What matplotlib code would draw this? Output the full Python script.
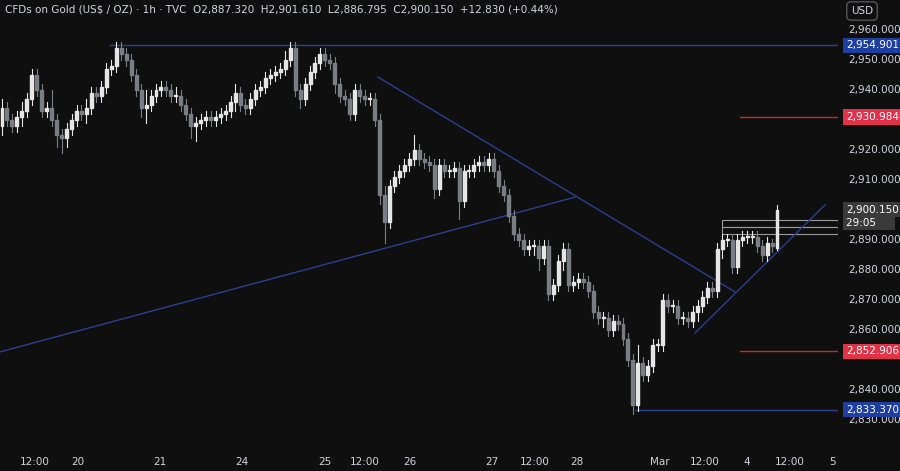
import matplotlib
matplotlib.use("Agg")
import matplotlib.pyplot as plt
from matplotlib.patches import Rectangle

closes = [2934,2930,2928,2931,2933,2937,2945,2940,2933,2934,2930,2925,2924,2927,2930,2933,2932,2934,2939,2938,
          2941,2947,2948,2954,2952,2950,2945,2940,2934,2935,2938,2940,2941,2940,2938,2938,2935,2932,2928,2929,
          2930,2931,2930,2931,2932,2933,2936,2939,2935,2934,2937,2940,2941,2944,2945,2946,2947,2950,2954,2940,
          2937,2942,2946,2949,2952,2950,2949,2942,2938,2937,2932,2940,2938,2937,2937,2930,
          2905,2896,2908,2911,2913,2915,2917,2920,2917,2916,2915,2907,2915,2913,2913,2914,2903,2913,
          2913,2915,2916,2915,2917,2913,2908,2905,2898,2892,2890,2887,2888,2888,2884,2888,2872,2875,2883,2887,
          2875,2876,2877,2876,2873,2866,2864,2864,2860,2863,2862,2857,2850,2835,2849,2845,2848,2855,2855,2870,
          2868,2868,2864,2864,2863,2866,2868,2871,2874,2873,2887,2890,2890,2881,2890,2891,2891,2891,2888,2885,
          2889,2888,2900.15]
wick_up = [3,2,2,2,3,2,2,2,2,2,6,2,2,2,2,2,2,3,2,2,2,2,2,2,2,2,2,2,2,5,2,2,2,2,2,3,2,2,2,2,
           2,2,2,2,2,2,2,3,2,2,2,2,2,2,2,2,2,3,2,2,2,2,2,2,2,2,2,2,2,2,2,2,2,2,2,2,
           2,3,2,2,2,2,2,5,2,2,2,2,2,2,2,2,2,2,2,2,2,2,2,2,2,2,2,2,2,2,2,2,2,2,2,2,2,2,
           2,2,2,2,2,2,2,2,2,2,2,2,2,2,6,2,2,2,2,2,2,2,2,2,2,2,2,2,2,2,2,2,2,2,2,2,2,2,2,2,2,1.5]
wick_dn = [3,2,2,2,3,2,2,2,2,2,2,4,5,3,2,2,2,3,2,2,2,2,2,2,2,2,2,2,3,5,2,2,2,2,2,2,2,2,4,5,
           2,2,2,2,2,2,2,3,2,2,2,2,2,2,2,2,2,2,2,2,3,2,2,2,2,2,2,3,2,2,2,2,2,2,2,2,
           3,7,2,2,2,2,2,2,2,2,2,3,2,2,2,2,6,2,2,2,2,2,2,2,2,2,2,2,2,2,2,3,4,2,2,2,2,3,
           2,2,2,2,2,2,2,3,2,2,2,2,2,3,2,2,2,2,2,2,2,2,2,2,2,2,3,2,2,2,2,3,2,2,2,2,2,2,2,2]
tick_px = [35, 78, 160, 242, 325, 365, 410, 492, 535, 577, 660, 705, 747, 790, 833]
tick_labels = ["12:00", "20", "21", "24", "25", "12:00", "26", "27", "12:00", "28", "Mar", "12:00", "4", "12:00", "5"]
price_ticks = [2830, 2840, 2860, 2870, 2880, 2890, 2910, 2920, 2940, 2950, 2960]

N = len(closes)
wick_up = (wick_up + [2] * N)[:N]
wick_dn = (wick_dn + [2] * N)[:N]
wick_up[-1] = 1.46
wick_dn[-1] = 0.525
opens = [2928] + closes[:-1]
opens[-1] = 2887.32
highs = [max(o, c) + w for o, c, w in zip(opens, closes, wick_up)]
lows = [min(o, c) - w for o, c, w in zip(opens, closes, wick_dn)]

BG = "#0f0f0f"
s = (777 - 2) / (N - 1)
px = lambda p: (p - 2) / s

fig = plt.figure(figsize=(9, 4.71), dpi=100, facecolor=BG)
ax = fig.add_axes([0, 21 / 471, 838 / 900, 450 / 471], facecolor=BG)
ax.set_xlim(px(0), px(838))
ax.set_ylim(2820, 2970)
for sp in ax.spines.values():
    sp.set_visible(False)
ax.set_xticks([]); ax.set_yticks([])

w = 0.6
for i, (o, h, l, c) in enumerate(zip(opens, highs, lows, closes)):
    col = "#e6e6e6" if c >= o else "#7b7d85"
    ax.plot([i, i], [l, h], color=col, lw=0.8, zorder=3)
    ax.add_patch(Rectangle((i - w / 2, min(o, c)), w, max(abs(c - o), 0.4), color=col, zorder=4))

blue = "#2a3f8f"
ax.plot([px(110), px(838)], [2954.901] * 2, color=blue, lw=1)
ax.plot([px(635), px(838)], [2833.37] * 2, color=blue, lw=1)
ax.plot([px(740), px(838)], [2930.984] * 2, color="#c42a2a", lw=1)
ax.plot([px(740), px(838)], [2852.906] * 2, color="#c42a2a", lw=1)
ax.plot([px(0), px(575)], [2852.7, 2904.3], color=blue, lw=1)
ax.plot([px(378), px(735)], [2944.3, 2872.7], color=blue, lw=1)
ax.plot([px(695), px(825)], [2859, 2901.7], color=blue, lw=1)
ax.add_patch(Rectangle((px(722), 2894.5), px(838) - px(722), 2.3, fill=False, ec="#9a9a9a", lw=0.8))
ax.add_patch(Rectangle((px(722), 2892.0), px(838) - px(722), 2.5, fill=False, ec="#9a9a9a", lw=0.8))

for p, t in zip(tick_px, tick_labels):
    fig.text(p / 900, 1 - 462 / 471, t, color="#d1d4dc", fontsize=7.5, ha="center", va="center")
for p in price_ticks:
    y = 30 + (2960 - p) * 3
    fig.text(848 / 900, 1 - y / 471, f"{p:,}.000", color="#d1d4dc", fontsize=7.5, ha="left", va="center")

def tag(price, txt, bg, dy=0):
    y = 30 + (2960 - price) * 3 + dy
    fig.text(846 / 900, 1 - y / 471, txt, color="white", fontsize=7.5, ha="left", va="center",
             bbox=dict(boxstyle="square,pad=0.25", fc=bg, ec="none"))

tag(2954.901, "2,954.901", "#1e3fa0")
tag(2930.984, "2,930.984", "#e0334a")
tag(2900.150, "2,900.150", "#3a3a3a")
tag(2900.150, "29:05     ", "#3a3a3a", dy=13)
tag(2852.906, "2,852.906", "#e0334a")
tag(2833.370, "2,833.370", "#1e3fa0")

fig.text(5 / 900, 1 - 10 / 471, "CFDs on Gold (US$ / OZ) · 1h · TVC  O2,887.320  H2,901.610  L2,886.795  C2,900.150  +12.830 (+0.44%)",
         color="#d1d4dc", fontsize=7.5, ha="left", va="center")
fig.text(862 / 900, 1 - 11 / 471, "USD", color="#d1d4dc", fontsize=7.5, ha="center", va="center",
         bbox=dict(boxstyle="round,pad=0.4", fc=BG, ec="#555555"))

fig.savefig("out.png", dpi=100, facecolor=BG)
